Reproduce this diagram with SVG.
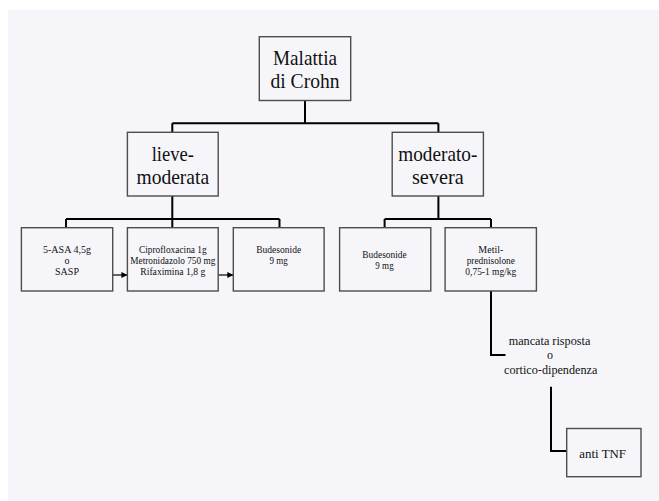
<svg xmlns="http://www.w3.org/2000/svg" width="659" height="501" viewBox="0 0 659 501">
  <style>
    .box { fill: #f6f6fa; stroke: #4d4d4d; stroke-width: 1.4; }
    .big { font-family: "Liberation Serif", "Times New Roman", serif; font-size: 22px; fill: #111; text-anchor: middle; }
    .small { font-family: "Liberation Serif", "Times New Roman", serif; font-size: 10px; fill: #111; text-anchor: middle; }
    .mid { font-family: "Liberation Serif", "Times New Roman", serif; font-size: 12px; fill: #111; text-anchor: middle; }
    .wire { fill: none; stroke: #000; stroke-width: 2; }
    .arrow { fill: none; stroke: #000; stroke-width: 1.2; }
  </style>
  <defs>
    <marker id="head" viewBox="0 0 10 10" refX="10" refY="5" markerWidth="6" markerHeight="6" markerUnits="userSpaceOnUse" orient="auto">
      <path d="M0,0 L10,5 L0,10 Z" fill="#000"/>
    </marker>
  </defs>

  <rect x="0" y="0" width="659" height="501" fill="#ffffff"/>
  <rect x="8" y="10" width="651" height="491" fill="#f6f6fa"/>

  <!-- connectors -->
  <g id="connectors">
    <path class="wire" d="M305,100.5 V123.3 M172.3,123.3 H438.4 M172.3,123.3 V132.3 M438.4,123.3 V132.3"/>
    <path class="wire" d="M172.3,196 V219 M66,219 H279.5 M66,219 V227.7 M172.3,219 V227.7 M279.5,219 V227.7"/>
    <path class="wire" d="M438.4,196 V219 M384.6,219 H491 M384.6,219 V227.7 M491,219 V227.7"/>
    <path class="wire" d="M491,291 V355 H505.5"/>
    <path class="wire" d="M551,386.7 V451 H566.7"/>
    <line class="arrow" x1="112.7" y1="275" x2="127.4" y2="275" marker-end="url(#head)"/>
    <line class="arrow" x1="218.2" y1="275" x2="233.3" y2="275" marker-end="url(#head)"/>
  </g>

  <g id="root">
    <rect class="box" x="259.3" y="36.7" width="91.4" height="63.8"/>
    <text class="big" x="305" y="65" textLength="64" lengthAdjust="spacingAndGlyphs">Malattia</text>
    <text class="big" x="305" y="88.3" textLength="69" lengthAdjust="spacingAndGlyphs">di Crohn</text>
  </g>

  <g id="lieve-moderata">
    <rect class="box" x="127.4" y="132.3" width="90.8" height="63.7"/>
    <text class="big" x="172.8" y="161" textLength="42.3" lengthAdjust="spacingAndGlyphs">lieve-</text>
    <text class="big" x="172.8" y="184" textLength="72.7" lengthAdjust="spacingAndGlyphs">moderata</text>
  </g>

  <g id="moderato-severa">
    <rect class="box" x="392.2" y="132.3" width="91.2" height="63.7"/>
    <text class="big" x="437.8" y="161" textLength="79" lengthAdjust="spacingAndGlyphs">moderato-</text>
    <text class="big" x="437.8" y="184" textLength="51.7" lengthAdjust="spacingAndGlyphs">severa</text>
  </g>

  <g id="asa">
    <rect class="box" x="21.4" y="227.7" width="91.3" height="63.3"/>
    <text class="small" x="67" y="252.5" textLength="48" lengthAdjust="spacingAndGlyphs">5-ASA 4,5g</text>
    <text class="small" x="67" y="263.5">o</text>
    <text class="small" x="67" y="274.5">SASP</text>
  </g>

  <g id="antibiotici">
    <rect class="box" x="127.4" y="227.7" width="90.8" height="63.3"/>
    <text class="small" x="172.8" y="252.5" textLength="67.7" lengthAdjust="spacingAndGlyphs">Ciprofloxacina 1g</text>
    <text class="small" x="172.8" y="263.5" textLength="85" lengthAdjust="spacingAndGlyphs">Metronidazolo 750 mg</text>
    <text class="small" x="172.8" y="274.5" textLength="65" lengthAdjust="spacingAndGlyphs">Rifaximina 1,8 g</text>
  </g>

  <g id="budesonide-1">
    <rect class="box" x="233.3" y="227.7" width="90.8" height="63.3"/>
    <text class="small" x="278.7" y="252.5" textLength="45" lengthAdjust="spacingAndGlyphs">Budesonide</text>
    <text class="small" x="278.7" y="263.5" textLength="18.3" lengthAdjust="spacingAndGlyphs">9 mg</text>
  </g>

  <g id="budesonide-2">
    <rect class="box" x="339.6" y="227.7" width="91.2" height="63.3"/>
    <text class="small" x="384.5" y="257.5" textLength="44.3" lengthAdjust="spacingAndGlyphs">Budesonide</text>
    <text class="small" x="384.5" y="269" textLength="18.3" lengthAdjust="spacingAndGlyphs">9 mg</text>
  </g>

  <g id="metilprednisolone">
    <rect class="box" x="445.1" y="227.7" width="91.3" height="63.3"/>
    <text class="small" x="490.8" y="252.5" textLength="25" lengthAdjust="spacingAndGlyphs">Metil-</text>
    <text class="small" x="490.8" y="263.5" textLength="48.3" lengthAdjust="spacingAndGlyphs">prednisolone</text>
    <text class="small" x="490.8" y="274.5" textLength="51" lengthAdjust="spacingAndGlyphs">0,75-1 mg/kg</text>
  </g>

  <g id="mancata-risposta">
    <text class="mid" x="549.5" y="345" textLength="81.7" lengthAdjust="spacingAndGlyphs">mancata risposta</text>
    <text class="mid" x="550" y="359.3">o</text>
    <text class="mid" x="550.7" y="373.5" textLength="93.3" lengthAdjust="spacingAndGlyphs">cortico-dipendenza</text>
  </g>

  <g id="anti-tnf">
    <rect class="box" x="566.7" y="428.5" width="74.3" height="48.2"/>
    <text class="mid" x="602.7" y="458.3" style="font-size:13px" textLength="46.7" lengthAdjust="spacingAndGlyphs">anti TNF</text>
  </g>
</svg>
